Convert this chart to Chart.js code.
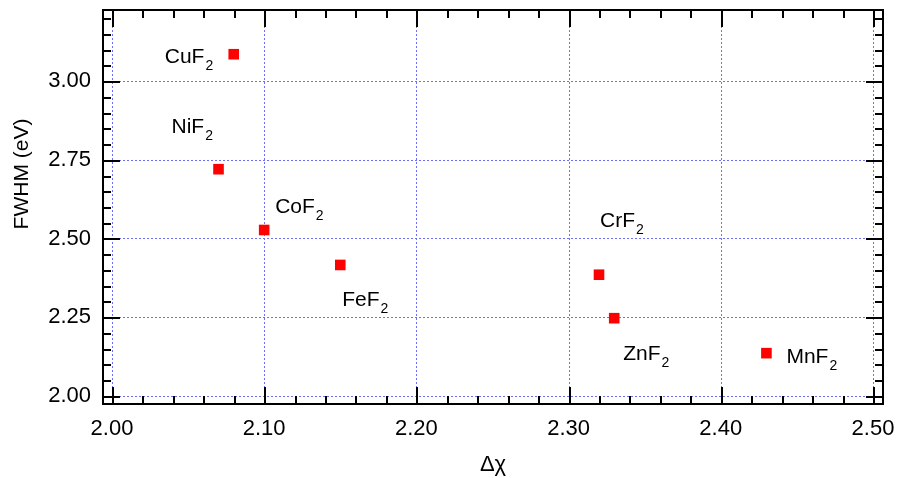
<!DOCTYPE html>
<html>
<head>
<meta charset="utf-8">
<script src="https://cdn.jsdelivr.net/npm/chart.js@4"></script>
<style>
  body { margin: 0; background: #fff; }
</style>
</head>
<body>
<canvas id="fwhm" width="897" height="478"></canvas>
<script>
const compounds = ["CuF", "NiF", "CoF", "FeF", "CrF", "ZnF", "MnF"];
const deltaChi = [2.08, 2.07, 2.10, 2.15, 2.32, 2.33, 2.43];
const fwhm = [3.085, 2.72, 2.527, 2.416, 2.385, 2.247, 2.136];
const xTicks = [2.0, 2.1, 2.2, 2.3, 2.4, 2.5];
const yTicks = [2.0, 2.25, 2.5, 2.75, 3.0];

// where each formula label sits, relative to its marker (text start, baseline)
const labelOffsets = [[-69, 9], [-47, -36], [11, -17], [2, 41], [1, -48], [9, 42], [20, 10]];

const FONT = "'Liberation Sans', Arial, Helvetica, sans-serif";

const framePlugin = {
  id: "frame",
  beforeDatasetsDraw(chart) {
    // dotted blue grid at the labelled ticks
    const { ctx, chartArea: a, scales } = chart;
    ctx.save();
    ctx.strokeStyle = "#6e6eff";
    ctx.lineWidth = 1;
    ctx.setLineDash([2, 2]);
    xTicks.forEach((v) => {
      const px = Math.round(scales.x.getPixelForValue(v)) + 0.5;
      ctx.beginPath();
      ctx.moveTo(px, a.top);
      ctx.lineTo(px, a.bottom);
      ctx.stroke();
    });
    yTicks.forEach((v) => {
      const py = Math.round(scales.y.getPixelForValue(v)) + 0.5;
      ctx.beginPath();
      ctx.moveTo(a.left, py);
      ctx.lineTo(a.right, py);
      ctx.stroke();
    });
    ctx.restore();
  },
  afterDraw(chart) {
    const { ctx, chartArea: a, scales } = chart;
    const xs = scales.x, ys = scales.y;
    ctx.save();
    ctx.strokeStyle = "#000";
    ctx.lineWidth = 2;

    // inward ticks on all four sides
    const tick = (x1, y1, x2, y2) => {
      ctx.beginPath();
      ctx.moveTo(x1, y1);
      ctx.lineTo(x2, y2);
      ctx.stroke();
    };
    for (let i = 0; i <= 25; i++) {
      const v = 2.0 + i * 0.02;
      const px = Math.round(xs.getPixelForValue(v)) + 1;
      const len = i % 5 === 0 ? 17 : 8;
      tick(px, a.bottom, px, a.bottom - len);
      tick(px, a.top, px, a.top + len);
    }
    for (let i = 0; i <= 24; i++) {
      const v = 2.0 + i * 0.05;
      const py = Math.round(ys.getPixelForValue(v)) + 1;
      const len = i % 5 === 0 ? 17 : 8;
      tick(a.left, py, a.left + len, py);
      tick(a.right, py, a.right - len, py);
    }
    ctx.strokeRect(a.left, a.top, a.right - a.left, a.bottom - a.top);

    // y axis title
    ctx.fillStyle = "#000";
    ctx.font = "21px " + FONT;
    ctx.textAlign = "center";
    ctx.textBaseline = "middle";
    ctx.translate(22, 174);
    ctx.rotate(-Math.PI / 2);
    ctx.fillText("FWHM (eV)", 0, 0);
    ctx.setTransform(1, 0, 0, 1, 0, 0);

    // formula labels with subscript 2
    const meta = chart.getDatasetMeta(0);
    ctx.textAlign = "left";
    ctx.textBaseline = "alphabetic";
    meta.data.forEach((pt, i) => {
      const x = pt.x + labelOffsets[i][0];
      const y = pt.y + labelOffsets[i][1];
      ctx.font = "21px " + FONT;
      ctx.fillText(compounds[i], x, y);
      const w = ctx.measureText(compounds[i]).width;
      ctx.font = "14px " + FONT;
      ctx.fillText("2", x + w + 1, y + 7);
    });
    ctx.restore();
  },
};

new Chart(document.getElementById("fwhm"), {
  type: "scatter",
  data: {
    datasets: [
      {
        data: deltaChi.map((x, i) => ({ x: x, y: fwhm[i] })),
        backgroundColor: "#ff0000",
        borderWidth: 0,
        pointStyle: "rect",
        pointRadius: 7.5,
        pointHoverRadius: 7.5,
      },
    ],
  },
  options: {
    responsive: false,
    animation: false,
    events: [],
    layout: { padding: { top: 10, right: 14, left: 0, bottom: 0 } },
    plugins: {
      legend: { display: false },
      tooltip: { enabled: false },
    },
    scales: {
      x: {
        type: "linear",
        min: 1.9941,
        max: 2.5066,
        afterBuildTicks: (s) => { s.ticks = xTicks.map((v) => ({ value: v })); },
        afterFit: (s) => { s.height = 74; s.paddingLeft = 0; s.paddingRight = 0; },
        ticks: {
          padding: 12,
          color: "#000",
          font: { family: FONT, size: 22 },
          callback: (v) => v.toFixed(2),
        },
        grid: { display: false, drawTicks: false },
        border: { display: false },
        title: {
          display: true,
          text: "Δχ",
          color: "#000",
          font: { family: FONT, size: 22 },
          padding: 0,
        },
      },
      y: {
        type: "linear",
        min: 1.9746,
        max: 3.2254,
        afterBuildTicks: (s) => { s.ticks = yTicks.map((v) => ({ value: v })); },
        afterFit: (s) => { s.width = 103; s.paddingTop = 0; s.paddingBottom = 0; },
        ticks: {
          padding: 12,
          color: "#000",
          font: { family: FONT, size: 22 },
          callback: (v) => v.toFixed(2),
        },
        grid: { display: false, drawTicks: false },
        border: { display: false },
      },
    },
  },
  plugins: [framePlugin],
});
</script>
</body>
</html>
